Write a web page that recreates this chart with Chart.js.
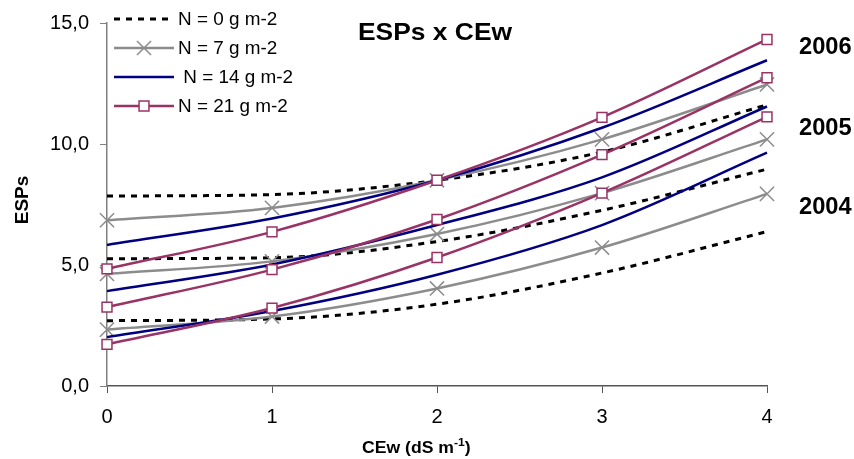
<!DOCTYPE html>
<html lang="pt">
<head>
  <meta charset="UTF-8" />
  <title>ESPs x CEw</title>
  <script src="https://cdn.jsdelivr.net/npm/chart.js"></script>
  <style>
    body { margin: 0; padding: 0; background: #fff; }
    #wrap { width: 854px; height: 459px; }
  </style>
</head>
<body>
  <div id="wrap"><canvas id="espChart" width="854" height="459"></canvas></div>

  <script>
    // CEw values (dS m-1)
    const cew = [0, 1, 2, 3, 4];
    const yTicks = [0, 5, 10, 15];
    const years = ['2006', '2005', '2004'];
    const nLabels = ['N = 0 g m-2', 'N = 7 g m-2', ' N = 14 g m-2', 'N = 21 g m-2'];

    // ESPs, per year and N dose
    const esp2006N0  = [7.85, 7.91, 8.50, 9.67, 11.62];
    const esp2006N7  = [6.85, 7.36, 8.50, 10.19, 12.46];
    const esp2006N14 = [5.83, 6.92, 8.50, 10.67, 13.46];
    const esp2006N21 = [4.84, 6.37, 8.50, 11.10, 14.32];

    const esp2005N0  = [5.26, 5.30, 5.97, 7.26, 8.96];
    const esp2005N7  = [4.63, 5.15, 6.28, 7.97, 10.19];
    const esp2005N14 = [3.92, 5.02, 6.65, 8.62, 11.55];
    const esp2005N21 = [3.26, 4.81, 6.88, 9.56, 12.74];

    const esp2004N0  = [2.70, 2.77, 3.38, 4.67, 6.38];
    const esp2004N7  = [2.33, 2.87, 4.03, 5.72, 7.94];
    const esp2004N14 = [2.02, 3.10, 4.60, 6.65, 9.64];
    const esp2004N21 = [1.72, 3.22, 5.31, 7.97, 11.12];

    const FONT = '"Liberation Sans", Arial, sans-serif';

    // one style per N dose
    const styles = [
      { borderColor: '#000000', borderWidth: 3, borderDash: [6, 6], pointStyle: false, pointRadius: 0 },
      { borderColor: '#8c8c8c', borderWidth: 2.5, pointStyle: 'crossRot', pointRadius: 10, pointBorderWidth: 1.5 },
      { borderColor: '#000080', borderWidth: 2.5, pointStyle: false, pointRadius: 0 },
      { borderColor: '#993366', borderWidth: 2.5, pointStyle: 'rect', pointRadius: 7, pointBorderWidth: 1.5 }
    ];

    const series = [
      [esp2006N0, esp2006N7, esp2006N14, esp2006N21],
      [esp2005N0, esp2005N7, esp2005N14, esp2005N21],
      [esp2004N0, esp2004N7, esp2004N14, esp2004N21]
    ];

    const datasets = [];
    series.forEach((group, gi) => {
      group.forEach((vals, ni) => {
        const s = styles[ni];
        datasets.push({
          label: years[gi] + nLabels[ni],
          data: vals.map((v, i) => ({ x: cew[i], y: v })),
          borderColor: s.borderColor,
          borderWidth: s.borderWidth,
          borderDash: s.borderDash || [],
          pointStyle: s.pointStyle,
          pointRadius: s.pointRadius,
          pointBorderColor: s.borderColor,
          pointBackgroundColor: '#ffffff',
          pointBorderWidth: s.pointBorderWidth || 1,
          cubicInterpolationMode: 'monotone',
          fill: false,
          clip: false,
          order: 3 - ni
        });
      });
    });

    // text drawn a bit wider, like the original export
    function wideText(ctx, txt, x, y, sx) {
      ctx.save();
      ctx.translate(x, y);
      ctx.scale(sx, 1);
      ctx.fillText(txt, 0, 0);
      const w = ctx.measureText(txt).width * sx;
      ctx.restore();
      return w;
    }

    const textPlugin = {
      id: 'texts',
      afterDraw(chart) {
        const ctx = chart.ctx;
        ctx.save();
        ctx.fillStyle = '#000';

        // title
        ctx.font = 'bold 24px ' + FONT;
        ctx.textAlign = 'left';
        ctx.textBaseline = 'middle';
        wideText(ctx, 'ESPs x CEw', 358, 33, 1.1);

        // year labels on the right
        ctx.font = 'bold 23px ' + FONT;
        wideText(ctx, '2006', 799, 48, 1.03);
        wideText(ctx, '2005', 799, 129, 1.03);
        wideText(ctx, '2004', 799, 208, 1.03);

        // y title
        ctx.save();
        ctx.translate(23, 200);
        ctx.rotate(-Math.PI / 2);
        ctx.textAlign = 'center';
        ctx.font = 'bold 19px ' + FONT;
        ctx.fillText('ESPs', 0, 0);
        ctx.restore();

        // x title with superscript
        ctx.textAlign = 'left';
        ctx.font = 'bold 16px ' + FONT;
        let x = 362;
        const y = 449;
        x += wideText(ctx, 'CEw (dS m', x, y, 1.1);
        ctx.font = 'bold 11px ' + FONT;
        x += wideText(ctx, '-1', x, y - 6, 1.1);
        ctx.font = 'bold 16px ' + FONT;
        wideText(ctx, ')', x, y, 1.1);

        // legend
        ctx.font = '18px ' + FONT;
        const rows = [19, 48, 77, 106];
        styles.forEach((s, i) => {
          const ly = rows[i];
          ctx.save();
          ctx.strokeStyle = s.borderColor;
          ctx.lineWidth = s.borderWidth;
          ctx.setLineDash(s.borderDash || []);
          ctx.beginPath();
          ctx.moveTo(114, ly);
          ctx.lineTo(174, ly);
          ctx.stroke();
          ctx.restore();
          if (s.pointStyle) {
            ctx.save();
            ctx.fillStyle = '#fff';
            ctx.strokeStyle = s.borderColor;
            ctx.lineWidth = s.pointBorderWidth;
            Chart.helpers.drawPoint(ctx, {
              pointStyle: s.pointStyle,
              radius: s.pointRadius,
              borderWidth: s.pointBorderWidth,
              rotation: 0
            }, 144, ly);
            ctx.restore();
          }
          ctx.fillStyle = '#000';
          ctx.textBaseline = 'middle';
          wideText(ctx, nLabels[i], 178, ly + 1, 1.05);
        });

        ctx.restore();
      }
    };

    new Chart(document.getElementById('espChart'), {
      type: 'line',
      data: { datasets },
      options: {
        responsive: false,
        animation: false,
        layout: { padding: { top: 20, right: 87, left: 0, bottom: 0 } },
        plugins: { legend: { display: false }, tooltip: { enabled: false } },
        scales: {
          x: {
            type: 'linear',
            min: cew[0],
            max: cew[cew.length - 1],
            afterFit: s => { s.height = 73; },
            afterBuildTicks: s => { s.ticks = cew.map(v => ({ value: v })); },
            ticks: { color: '#000', font: { family: FONT, size: 20 }, padding: 12 },
            grid: { drawOnChartArea: false, tickLength: 7, color: '#555' },
            border: { color: '#555', width: 1.5 }
          },
          y: {
            min: yTicks[0],
            max: yTicks[yTicks.length - 1],
            afterFit: s => { s.width = 107; },
            afterBuildTicks: s => { s.ticks = yTicks.map(v => ({ value: v })); },
            ticks: {
              color: '#000',
              font: { family: FONT, size: 20 },
              padding: 11,
              callback: v => v.toFixed(1).replace('.', ',')
            },
            grid: { drawOnChartArea: false, tickLength: 7, color: '#808080' },
            border: { color: '#808080', width: 1.5 }
          }
        }
      },
      plugins: [textPlugin]
    });
  </script>
</body>
</html>
